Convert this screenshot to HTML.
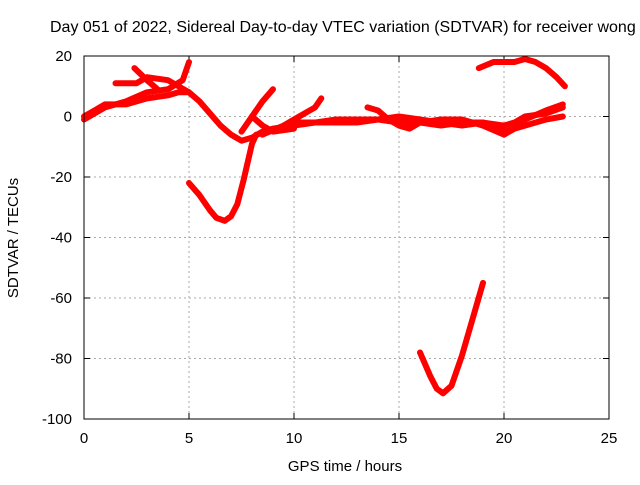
<!DOCTYPE html>
<html><head><meta charset="utf-8"><style>
body{margin:0;background:#fff;}
svg text{font-family:"Liberation Sans",sans-serif;font-size:15px;fill:#000;}
</style></head><body>
<svg width="640" height="480" id="c">
<text x="50" y="32" style="font-size:16px">Day 051 of 2022, Sidereal Day-to-day VTEC variation (SDTVAR) for receiver wong</text>
<text x="345" y="471" text-anchor="middle">GPS time / hours</text>
<text transform="translate(18,238) rotate(-90)" text-anchor="middle">SDTVAR / TECUs</text>
<g id="grid"></g><g id="series"></g>
<rect x="84" y="56" width="525" height="363" fill="none" stroke="#000"/>
</svg>
<script>
const xTicks=[0,5,10,15,20,25];
const yTicks=[20,0,-20,-40,-60,-80,-100];
const sA=[[0,0],[0.5,2],[1,4],[2,4],[3,6],[4,7],[4.5,8],[5,8],[5.5,5],[6,1],[6.5,-3],[7,-6],[7.5,-8],[8,-7],[8.5,-5],[9,-4],[10,-3],[11,-2],[12,-2],[13,-2],[14,-1],[15,-2],[16,-2],[17,-3],[18,-2],[19,-2],[20,-5],[21,-3],[22,-1],[22.8,0]];
const sB=[[0,-1],[1,3],[2,5],[3,8],[4,9],[4.7,12],[5,18]];
const sC=[[1.5,11],[2.5,11],[3,13],[4,12],[5,8]];
const sD=[[2.4,16],[3,12],[3.5,9]];
const sE=[[5,-22],[5.5,-26],[6,-31],[6.3,-33.5],[6.7,-34.5],[7,-33],[7.3,-29],[7.6,-21],[8,-9],[8.2,-6]];
const sF=[[7.5,-5],[8,0],[8.5,5],[9,9]];
const sG=[[8,0],[8.5,-3],[9,-5],[10,-4]];
const sH=[[8.5,-6],[9.5,-3],[10,-1],[11,3],[11.3,6]];
const sJ=[[16,-78],[16.5,-86],[16.8,-90],[17.1,-91.5],[17.5,-89],[18,-79],[18.5,-67],[19,-55]];
const sK=[[18.8,16],[19.5,18],[20.5,18],[21,19],[21.5,18],[22,16],[22.5,13],[22.9,10]];
const sL=[[10,-2],[11,-2],[12,-1],[13,-1],[14,-1],[15,0],[16,-1],[17,-2],[18,-3],[19,-2],[20,-3],[20.5,-2],[21,0],[22,1],[22.8,3]];
const sM=[[13.5,3],[14,2],[14.5,-1],[15,-3],[15.5,-4],[16,-2],[17,-1],[18,-1],[19,-3],[20,-6],[20.5,-4],[21,-1],[22,2],[22.8,4]];
const series=[sA,sB,sC,sD,sE,sF,sG,sH,sJ,sK,sL,sM];
const X=v=>84+v/25*525, Y=v=>56+(20-v)/120*363;
const NS='http://www.w3.org/2000/svg';
const svg=document.getElementById('c'),grid=document.getElementById('grid'),sg=document.getElementById('series');
function mk(t,a,p){const e=document.createElementNS(NS,t);for(const k in a)e.setAttribute(k,a[k]);p.appendChild(e);return e;}
xTicks.forEach(t=>{const x=X(t);
 if(t>0&&t<25){const l=mk('line',{x1:x,x2:x,y1:56,y2:419,stroke:'#aaa','stroke-dasharray':'2,3'},grid);}
 mk('line',{x1:x,x2:x,y1:419,y2:413,stroke:'#000'},grid);mk('line',{x1:x,x2:x,y1:56,y2:62,stroke:'#000'},grid);
 const tx=mk('text',{x:x,y:443,'text-anchor':'middle'},grid);tx.textContent=t;
 });
yTicks.forEach(t=>{const y=Y(t);
 if(t<20&&t>-100){const l=mk('line',{x1:84,x2:609,y1:y,y2:y,stroke:'#aaa','stroke-dasharray':'2,3'},grid);}
 mk('line',{x1:84,x2:90,y1:y,y2:y,stroke:'#000'},grid);mk('line',{x1:603,x2:609,y1:y,y2:y,stroke:'#000'},grid);
 const tx=mk('text',{x:72,y:y+5,'text-anchor':'end'},grid);tx.textContent=t;
 });
series.forEach(s=>{
 const p=mk('polyline',{points:s.map(d=>X(d[0])+','+Y(d[1])).join(' '),fill:'none',stroke:'#f00','stroke-width':6,'stroke-linejoin':'round','stroke-linecap':'round'},sg);
 
 
});
</script>
</body></html>
